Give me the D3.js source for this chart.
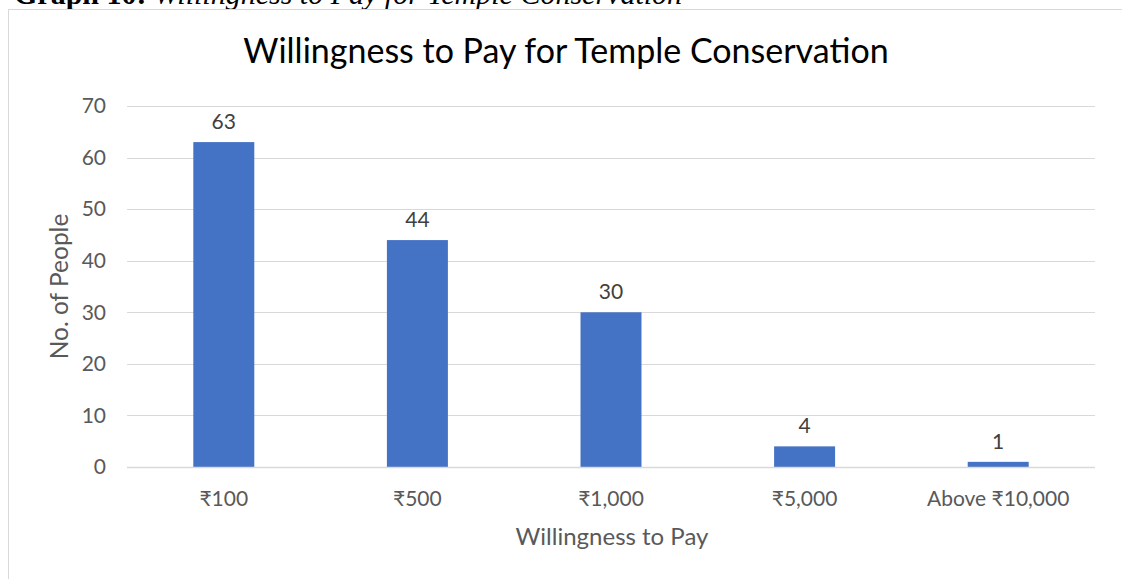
<!DOCTYPE html>
<html>
<head>
<meta charset="utf-8">
<script src="https://cdn.jsdelivr.net/npm/d3@7/dist/d3.min.js"></script>
<style>
  html, body { margin: 0; padding: 0; background: #fff; }
  svg { display: block; }
</style>
</head>
<body>
<svg id="chart" width="1122" height="579"></svg>
<script>
// Survey responses: amount respondents would pay toward temple conservation
const categories = ["₹100", "₹500", "₹1,000", "₹5,000", "Above ₹10,000"];
const people = [63, 44, 30, 4, 1];
const yTicks = [0, 10, 20, 30, 40, 50, 60, 70];

const svg = d3.select("#chart");
const W = 1122, H = 579;
const margin = { left: 127, right: 27, top: 106, bottom: 112 };
const font = "Lato, 'Open Sans', sans-serif";
const textColor = "#595959";

// Caption above the chart frame (sits partly above the page edge)
const cap = svg.append("text")
  .attr("x", 14).attr("y", 4)
  .attr("font-family", "'Liberation Serif', 'Times New Roman', serif")
  .attr("font-size", 30).attr("fill", "#000");
cap.append("tspan").attr("font-weight", "bold").text("Graph 10: ");
cap.append("tspan").attr("font-style", "italic").text("Willingness to Pay for Temple Conservation");

// Chart frame
svg.append("rect")
  .attr("x", 8.5).attr("y", 9.5)
  .attr("width", W + 10).attr("height", H + 10)
  .attr("fill", "#fff").attr("stroke", "#d9d9d9").attr("stroke-width", 1);

const x = d3.scaleBand()
  .domain(categories)
  .range([margin.left, W - margin.right])
  .paddingInner(0.685).paddingOuter(0.3425);

const y = d3.scaleLinear()
  .domain([0, 70])
  .range([H - margin.bottom, margin.top]);

// Gridlines
svg.append("g")
  .selectAll("line")
  .data(yTicks)
  .join("line")
  .attr("x1", margin.left).attr("x2", W - margin.right)
  .attr("y1", d => Math.round(y(d)) + 0.5).attr("y2", d => Math.round(y(d)) + 0.5)
  .attr("stroke", "#d9d9d9").attr("stroke-width", 1);

// Y axis labels
const yAxis = d3.axisLeft(y).tickValues(yTicks).tickSize(0).tickPadding(0);
svg.append("g")
  .attr("transform", `translate(${margin.left - 21},0)`)
  .call(yAxis)
  .call(g => g.select(".domain").remove())
  .call(g => g.selectAll("text")
    .attr("font-family", font).attr("font-size", 21).attr("fill", textColor));

// Bars
svg.append("g")
  .selectAll("rect")
  .data(people)
  .join("rect")
  .attr("x", (d, i) => x(categories[i]))
  .attr("y", d => y(d))
  .attr("width", x.bandwidth())
  .attr("height", d => y(0) - y(d))
  .attr("fill", "#4472c4");

// Baseline
svg.append("line")
  .attr("x1", margin.left).attr("x2", W - margin.right)
  .attr("y1", y(0) + 0.5).attr("y2", y(0) + 0.5)
  .attr("stroke", "#d9d9d9").attr("stroke-width", 1.5);

// Value labels
svg.append("g")
  .selectAll("text")
  .data(people)
  .join("text")
  .attr("x", (d, i) => x(categories[i]) + x.bandwidth() / 2)
  .attr("y", d => y(d) - 13)
  .attr("text-anchor", "middle")
  .attr("font-family", font).attr("font-size", 21).attr("fill", "#404040")
  .text(d => d);

// X axis labels
const xAxis = d3.axisBottom(x).tickSize(0).tickPadding(0);
svg.append("g")
  .attr("transform", `translate(0,${y(0) + 24})`)
  .call(xAxis)
  .call(g => g.select(".domain").remove())
  .call(g => g.selectAll("text")
    .attr("font-family", font).attr("font-size", 21).attr("fill", textColor));

// Title
svg.append("text")
  .attr("x", 566).attr("y", 63)
  .attr("text-anchor", "middle")
  .attr("font-family", font).attr("font-size", 34).attr("fill", "#000")
  .text("Willingness to Pay for Temple Conservation");

// Axis titles
svg.append("text")
  .attr("x", 612).attr("y", 545)
  .attr("text-anchor", "middle")
  .attr("font-family", font).attr("font-size", 24).attr("fill", textColor)
  .text("Willingness to Pay");

svg.append("text")
  .attr("transform", `translate(68,${(margin.top + H - margin.bottom) / 2}) rotate(-90)`)
  .attr("text-anchor", "middle")
  .attr("font-family", font).attr("font-size", 24.5).attr("fill", textColor)
  .text("No. of People");
</script>
</body>
</html>
